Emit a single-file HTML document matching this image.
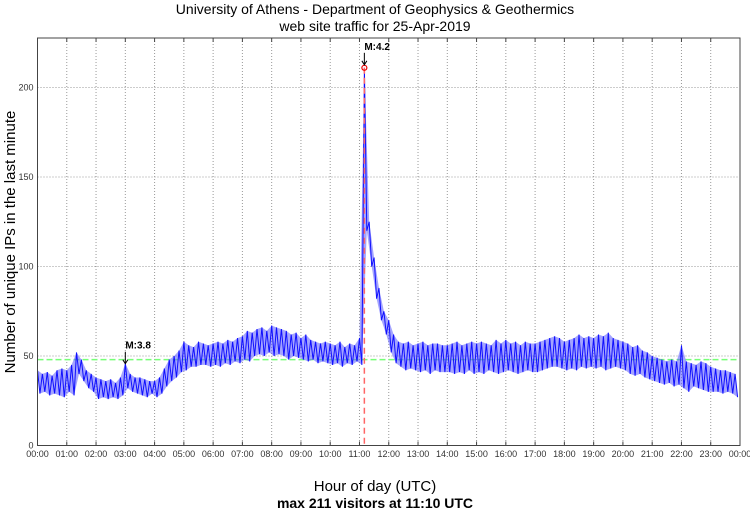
<!DOCTYPE html>
<html><head><meta charset="utf-8"><style>
body{margin:0;background:#fff}
svg{display:block;font-family:"Liberation Sans",sans-serif}
</style></head><body>
<svg id="c" width="750" height="511">
<text x="375" y="14" text-anchor="middle" font-size="14">University of Athens - Department of Geophysics &amp; Geothermics</text>
<text x="375" y="31" text-anchor="middle" font-size="14">web site traffic for 25-Apr-2019</text>
<text x="375" y="491" text-anchor="middle" font-size="15">Hour of day (UTC)</text>
<text x="375" y="508" text-anchor="middle" font-size="14" font-weight="bold">max 211 visitors at 11:10 UTC</text>
<text transform="translate(15,242) rotate(-90)" text-anchor="middle" font-size="15">Number of unique IPs in the last minute</text>
<g id="grid"></g><g id="series"></g><g id="ann"></g>
<rect x="37.5" y="38" width="702.5" height="407.5" fill="none" stroke="#444" stroke-width="1"/>
</svg>
<script>
const yTicks=[0,50,100,150,200];
const xTickLabels=["00:00","01:00","02:00","03:00","04:00","05:00","06:00","07:00","08:00","09:00","10:00","11:00","12:00","13:00","14:00","15:00","16:00","17:00","18:00","19:00","20:00","21:00","22:00","23:00","00:00"];
const binLow=[29,30,28,29,28,27, 30,28,40,36,32,30, 26,27,26,27,26,28, 32,30,29,28,27,29, 27,29,33,36,38,41, 42,44,44,45,45,44, 45,44,46,45,47,46, 48,47,50,51,50,52, 50,51,50,48,50,49, 48,47,48,46,47,46, 45,46,44,46,45,47, 45,120,100,82,70,62, 52,46,44,42,43,42, 41,42,40,42,41,41, 41,40,41,40,42,40, 41,40,42,41,40,41, 42,41,40,41,42,41, 41,42,43,44,44,43, 42,43,42,44,43,44, 43,44,42,43,44,43, 42,40,39,40,38,37, 36,35,34,35,33,34, 32,30,33,32,31,30, 30,30,29,30,29,27];
const binHigh=[42,40,41,39,42,43, 42,45,52,48,42,40, 38,37,36,37,35,38, 46,40,38,38,37,36, 36,38,43,48,50,53, 58,56,55,58,57,56, 57,58,57,59,58,60, 61,64,63,65,66,64, 67,66,65,64,62,63, 60,62,59,58,57,58, 57,56,58,55,57,56, 60,211,125,105,88,75, 70,62,58,57,58,56, 57,58,56,57,57,56, 56,57,58,56,57,58, 57,58,57,56,59,57, 59,57,58,56,58,57, 57,58,59,60,61,60, 58,59,60,62,60,61, 60,62,61,63,60,59, 58,57,55,56,53,52, 50,49,48,47,48,47, 56,47,46,45,47,46, 44,43,42,42,41,40];
const avgLine=48, peakMinute=670, peakValue=211;
const markers=[{label:"M:3.8",minute:180,value:44},{label:"M:4.2",minute:670,value:211}];

const L=37.5,R=740,B=445.5,PX=(B-356)/50;
const xs=m=>L+(R-L)*m/1440, ys=v=>B-v*PX;
const NS="http://www.w3.org/2000/svg";
function mk(t,a,p){const e=document.createElementNS(NS,t);for(const k in a)e.setAttribute(k,a[k]);p.appendChild(e);return e;}
const grid=document.getElementById('grid'),ser=document.getElementById('series'),ann=document.getElementById('ann');
yTicks.forEach(v=>{
  const y=ys(v);
  if(v>0){const g=mk('line',{x1:L,x2:R,y1:y,y2:y,stroke:'#999','stroke-dasharray':'1,2'},grid);
  
  }
  const t=mk('text',{x:L-4,y:y+3,'text-anchor':'end','font-size':9,fill:'#333'},grid);t.textContent=v;
  
  
});
xTickLabels.forEach((s,i)=>{
  const x=xs(i*60);
  if(i>0&&i<24){const g=mk('line',{x1:x,x2:x,y1:38,y2:B,stroke:'#999','stroke-dasharray':'1,2'},grid);
  
  
  mk('line',{x1:x,x2:x,y1:B,y2:B-4,stroke:'#444'},grid);mk('line',{x1:x,x2:x,y1:38,y2:42,stroke:'#444'},grid);}
  const t=mk('text',{x:x,y:457,'text-anchor':'middle','font-size':9,fill:'#333'},grid);t.textContent=s;
  
  
});
const ga=mk('line',{x1:L,x2:R,y1:ys(avgLine),y2:ys(avgLine),stroke:'#7f7','stroke-width':1.5,'stroke-dasharray':'6,3'},ser);


let up=[],dn=[],pts=[];
for(let i=0;i<binLow.length;i++){
  const a=xs(i*10),b=xs(i*10+5);
  up.push(a.toFixed(1)+','+ys(binHigh[i]).toFixed(1));
  dn.unshift(b.toFixed(1)+','+ys(binLow[i]).toFixed(1));
  pts.push(a.toFixed(1)+','+ys(binHigh[i]).toFixed(1));pts.push(b.toFixed(1)+','+ys(binLow[i]).toFixed(1));
}
const band=mk('polygon',{points:up.concat(dn).join(' '),fill:'#5a5aff','fill-opacity':0.55,stroke:'none'},ser);


const pl=mk('polyline',{points:pts.join(' '),fill:'none',stroke:'#1010ff','stroke-width':1},ser);


const rv=mk('line',{x1:xs(peakMinute),x2:xs(peakMinute),y1:ys(peakValue),y2:B,stroke:'#f66','stroke-width':1.5,'stroke-dasharray':'6,4'},ann);


const pc=mk('circle',{cx:xs(peakMinute),cy:ys(peakValue),r:2.5,fill:'none',stroke:'#e00','stroke-width':1.2},ann);


markers.forEach(m=>{
  const x=xs(m.minute),y=ys(m.value)-3;
  const g=mk('g',{},ann);
  
  
  mk('line',{x1:x,x2:x,y1:y-12,y2:y,stroke:'#000'},g);
  mk('path',{d:`M${x-2.5},${y-4} L${x},${y} L${x+2.5},${y-4}`,fill:'none',stroke:'#000'},g);
  const t=mk('text',{x:x,y:y-15,'font-size':10,'font-weight':'bold'},g);t.textContent=m.label;
});
</script>
</body></html>
